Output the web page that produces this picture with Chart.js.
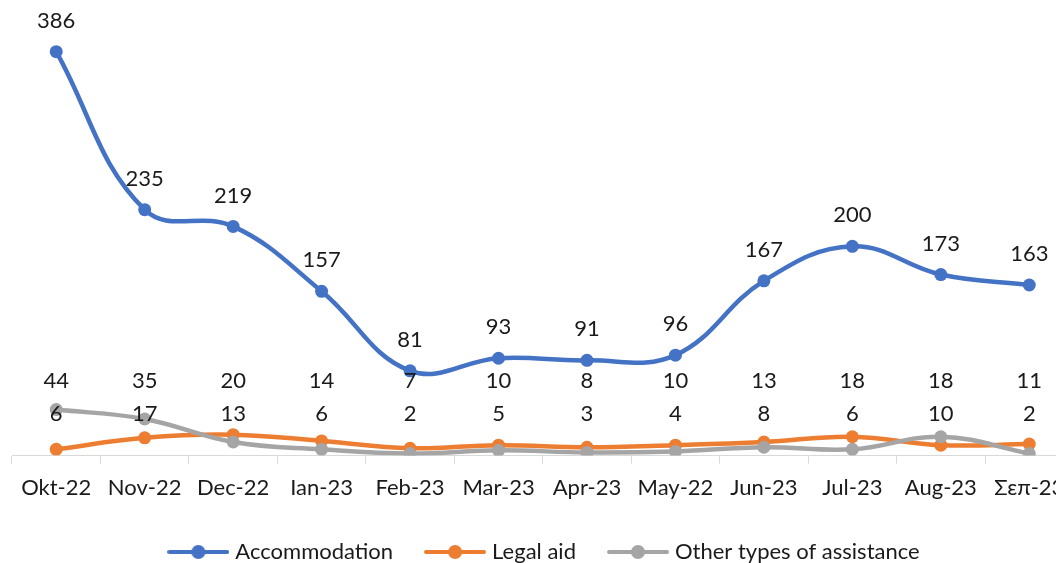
<!DOCTYPE html>
<html>
<head>
<meta charset="utf-8">
<script src="https://cdn.jsdelivr.net/npm/chart.js@4"></script>
<style>
  html, body { margin: 0; padding: 0; background: #fff; overflow: hidden; }
  #wrap { width: 1080px; height: 570px; }
</style>
</head>
<body>
<div id="wrap"><canvas id="chart"></canvas></div>
<script>
// Δεδομένα ανά μήνα
const months = ['Okt-22', 'Nov-22', 'Dec-22', 'Ian-23', 'Feb-23', 'Mar-23', 'Apr-23', 'May-22', 'Jun-23', 'Jul-23', 'Aug-23', 'Σεπ-23'];
const accommodation = [386, 235, 219, 157, 81, 93, 91, 96, 167, 200, 173, 163];
const legalAid = [6, 17, 20, 14, 7, 10, 8, 10, 13, 18, 10, 11];
const otherAssistance = [44, 35, 13, 6, 2, 5, 3, 4, 8, 6, 18, 2];

const blue = '#4472C4';
const orange = '#ED7D31';
const grey = '#A5A5A5';
const font = 'Lato, "Open Sans", sans-serif';

// μικρό εικονίδιο γραμμής με κύκλο για το υπόμνημα
function legendIcon(color) {
    const c = document.createElement('canvas');
    c.width = 62; c.height = 16;
    const g = c.getContext('2d');
    g.strokeStyle = color; g.lineWidth = 4; g.lineCap = 'round';
    g.beginPath(); g.moveTo(2, 8); g.lineTo(60, 8); g.stroke();
    g.fillStyle = color;
    g.beginPath(); g.arc(31, 8, 7, 0, Math.PI * 2); g.fill();
    return c;
}

// ετικέτες τιμών
const valueLabels = {
    id: 'valueLabels',
    afterDatasetsDraw(chart) {
        const ctx = chart.ctx;
        const bottom = chart.chartArea.bottom;
        ctx.save();
        ctx.font = '22px ' + font;
        ctx.fillStyle = '#1a1a1a';
        ctx.textAlign = 'center';
        ctx.textBaseline = 'middle';
        chart.getDatasetMeta(0).data.forEach((p, i) => {
            ctx.fillText(accommodation[i], p.x, p.y - 31);
        });
        chart.getDatasetMeta(1).data.forEach((p, i) => {
            const a = legalAid[i], b = otherAssistance[i];
            ctx.fillText(Math.max(a, b), p.x, bottom - 75);
            ctx.fillText(Math.min(a, b), p.x, bottom - 42);
        });
        ctx.restore();
    }
};

// υπόμνημα λίγο πιο κοντά στον άξονα
const legendShift = {
    id: 'legendShift',
    beforeLayout(chart) {
        const l = chart.legend;
        if (l && !l._shrunk) {
            const fit = l.fit;
            l.fit = function () { fit.call(this); this.height -= 10; };
            l._shrunk = true;
        }
    },
    afterLayout(chart) {
        if (chart.legend) chart.legend.top -= 7;
    }
};

new Chart(document.getElementById('chart').getContext('2d'), {
    type: 'line',
    data: {
        labels: months,
        datasets: [
            { label: 'Accommodation', data: accommodation, borderColor: blue, backgroundColor: blue, icon: legendIcon(blue), order: 0 },
            { label: 'Legal aid', data: legalAid, borderColor: orange, backgroundColor: orange, icon: legendIcon(orange), order: 2 },
            { label: 'Other types of assistance', data: otherAssistance, borderColor: grey, backgroundColor: grey, icon: legendIcon(grey), order: 1 }
        ]
    },
    options: {
        responsive: true,
        maintainAspectRatio: false,
        animation: false,
        layout: { padding: { top: 37, left: 12, right: 0, bottom: 0 } },
        elements: {
            line: { borderWidth: 4.5, tension: 0.4 },
            point: { radius: 6.5, borderWidth: 0, hoverRadius: 6.5 }
        },
        scales: {
            x: {
                offset: true,
                grid: { drawOnChartArea: false, tickLength: 8, color: '#d9d9d9', offset: true },
                border: { color: '#d9d9d9', width: 1 },
                ticks: { color: '#1a1a1a', font: { family: font, size: 22 }, padding: 11, maxRotation: 0, autoSkip: false }
            },
            y: { display: false, min: 0, max: 400 }
        },
        plugins: {
            legend: {
                position: 'bottom',
                labels: {
                    usePointStyle: true,
                    pointStyleWidth: 52,
                    padding: 36,
                    color: '#1a1a1a',
                    font: { family: font, size: 22 },
                    generateLabels(chart) {
                        return chart.data.datasets.map((ds, i) => ({
                            text: ds.label,
                            pointStyle: ds.icon,
                            fillStyle: ds.borderColor,
                            strokeStyle: ds.borderColor,
                            lineWidth: 0,
                            datasetIndex: i,
                            fontColor: '#1a1a1a'
                        }));
                    }
                }
            },
            tooltip: { enabled: false }
        }
    },
    plugins: [valueLabels, legendShift]
});
</script>
</body>
</html>
